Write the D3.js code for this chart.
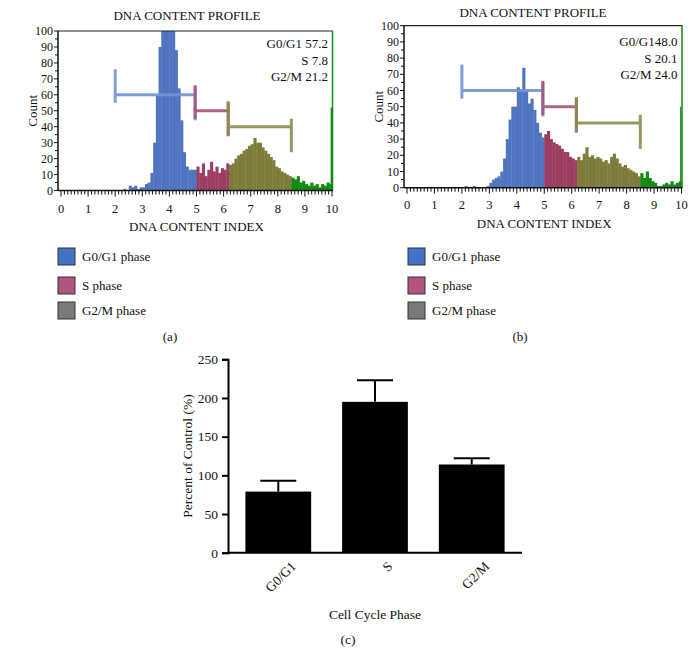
<html>
  <style type="text/css">
    body { margin: 0; background: #fff; }
    text { font-family: "Liberation Serif", "DejaVu Serif", serif; fill: #111; }
  </style>
  <body>
    <script src="https://cdnjs.cloudflare.com/ajax/libs/d3/7.8.5/d3.min.js"></script>
    <script type="text/javascript">
      // histogram channels, bin width 0.1 on the DNA content index (0..10)
      const countsA = [
        0, 0, 0, 0, 0, 0, 0, 0, 0, 0,
        0, 0, 0, 0, 0, 0, 0, 0, 0, 0,
        0, 0, 0, 1, 0, 3, 2, 3, 1, 2,
        2, 4, 5, 11, 30, 60, 90, 115, 128, 132,
        126, 106, 88, 64, 44, 24, 15, 13, 13, 13,
        15, 11, 17, 9, 13, 18, 12, 15, 11, 14,
        13, 17, 16, 17, 20, 22, 23, 25, 26, 28,
        29, 33, 30, 30, 27, 25, 23, 21, 19, 15,
        14, 12, 11, 10, 9, 8, 7, 9, 5, 6,
        4, 3, 5, 3, 4, 2, 4, 3, 5, 4
      ];
      const countsB = [
        0, 0, 0, 0, 0, 0, 0, 0, 0, 0,
        0, 0, 0, 0, 0, 0, 0, 0, 0, 0,
        0, 1, 0, 0, 1, 0, 0, 0, 0, 1,
        3, 5, 6, 7, 10, 18, 30, 42, 50, 50,
        62, 60, 74, 60, 52, 55, 48, 40, 34, 31,
        33, 35, 30, 28, 27, 26, 24, 22, 22, 19,
        18, 17, 19, 17, 21, 25, 19, 20, 18, 19,
        18, 16, 17, 15, 19, 21, 18, 15, 13, 14,
        12, 11, 10, 9, 7, 9, 6, 10, 6, 4,
        3, 1, 1, 2, 3, 2, 4, 2, 3, 4
      ];
      const lastChannelA = 52;
      const lastChannelB = 50;

      const gateStart = [2.0, 4.95, 6.17];
      const gateEnd = [4.95, 6.17, 8.5];
      const gateLevel = [60, 50, 40];

      const statsA = ["G0/G1 57.2", "S 7.8", "G2/M 21.2"];
      const statsB = ["G0/G148.0", "S 20.1", "G2/M 24.0"];
      const legendNames = ["G0/G1 phase", "S phase", "G2/M phase"];

      const cyclePhases = ["G0/G1", "S", "G2/M"];
      const percentOfControl = [79, 195, 114];
      const errorTop = [93, 223, 122];

      const histColors = ["#5075c0", "#9b3e62", "#7e7c3a", "#118a11"];
      const gateColors = ["#7393d2", "#aa5278", "#8d8c4e"];
      const legendColors = ["#4472c6", "#b0557f", "#7a7a7a"];

      const svg = d3.select("body").append("svg")
        .attr("width", 700).attr("height", 666);

      function drawHist(p) {
        const g = svg.append("g");
        const x = d3.scaleLinear().domain([0, 10]).range([p.x0, p.x1]);
        const y = d3.scaleLinear().domain([0, 100]).range([p.y0, p.y1]).clamp(true);
        const bw = 0.1;
        const phaseOf = v => v < gateEnd[0] ? 0 : v < gateEnd[1] ? 1 : v < gateEnd[2] ? 2 : 3;

        g.selectAll("rect.bin").data(p.counts).enter().append("rect")
          .attr("class", "bin")
          .attr("x", (d, i) => x(i * bw))
          .attr("width", x(bw) - x(0) + 0.4)
          .attr("y", d => y(d))
          .attr("height", d => y(0) - y(d))
          .attr("fill", (d, i) => histColors[phaseOf(i * bw)]);

        g.append("rect")
          .attr("x", x(9.95)).attr("width", x(10) - x(9.95))
          .attr("y", y(p.last)).attr("height", y(0) - y(p.last))
          .attr("fill", histColors[3]);

        // frame: top black, right green
        g.append("line").attr("x1", p.x0 - 3).attr("x2", x(10) + 1)
          .attr("y1", y(100)).attr("y2", y(100))
          .attr("stroke", "#222").attr("stroke-width", 1.2);
        g.append("line").attr("x1", x(10) + 0.5).attr("x2", x(10) + 0.5)
          .attr("y1", y(100)).attr("y2", y(0))
          .attr("stroke", histColors[3]).attr("stroke-width", 1.5);

        // gates
        gateStart.forEach((s, k) => {
          const L = gateLevel[k];
          const gg = g.append("g").attr("stroke", gateColors[k])
            .attr("stroke-width", 3).attr("opacity", 0.9);
          gg.append("line").attr("x1", x(s)).attr("x2", x(gateEnd[k]))
            .attr("y1", y(L)).attr("y2", y(L));
          gg.append("line").attr("x1", x(s)).attr("x2", x(s))
            .attr("y1", y(L - 5)).attr("y2", y(L + 16));
          gg.append("line").attr("x1", x(gateEnd[k])).attr("x2", x(gateEnd[k]))
            .attr("y1", y(L - 16)).attr("y2", y(L + 5));
        });

        // axes
        const yAxis = g.append("g").attr("transform", `translate(${p.x0 - 3},0)`);
        yAxis.append("line").attr("y1", y(0)).attr("y2", y(100))
          .attr("stroke", "#111").attr("stroke-width", 1.5);
        yAxis.selectAll("line.mt").data(d3.range(0, 101, 5)).enter().append("line")
          .attr("x1", d => d % 10 === 0 ? -4 : -3).attr("x2", 0)
          .attr("y1", d => y(d)).attr("y2", d => y(d))
          .attr("stroke", "#111").attr("stroke-width", 1);
        yAxis.selectAll("text").data(d3.range(0, 101, 10)).enter().append("text")
          .attr("x", -5).attr("y", d => y(d) + 4)
          .attr("text-anchor", "end").attr("font-size", 12)
          .text(d => d);

        const xAxis = g.append("g").attr("transform", `translate(0,${p.y0})`);
        xAxis.append("line").attr("x1", p.x0 - 3).attr("x2", x(10) + 1)
          .attr("stroke", "#111").attr("stroke-width", 1.5);
        xAxis.selectAll("line.mt").data(d3.range(0, 80.5, 1)).enter().append("line")
          .attr("x1", d => x(d / 8)).attr("x2", d => x(d / 8))
          .attr("y1", 0).attr("y2", d => d % 8 === 0 ? 6 : 4)
          .attr("stroke", "#111").attr("stroke-width", 1);
        xAxis.selectAll("text").data(d3.range(0, 11)).enter().append("text")
          .attr("x", d => x(d)).attr("y", p.tickY - p.y0)
          .attr("text-anchor", "middle").attr("font-size", 12.5)
          .text(d => d);

        g.append("text").attr("x", (p.x0 + p.x1) / 2).attr("y", p.y0 + 40)
          .attr("text-anchor", "middle").attr("font-size", 13)
          .text("DNA CONTENT INDEX");
        g.append("text").attr("x", p.titleX).attr("y", p.titleY)
          .attr("text-anchor", "middle").attr("font-size", 13)
          .text("DNA CONTENT PROFILE");
        g.append("text")
          .attr("transform", `translate(${p.x0 - 24},${(p.y0 + p.y1) / 2}) rotate(-90)`)
          .attr("text-anchor", "middle").attr("font-size", 13)
          .text("Count");

        g.selectAll("text.stat").data(p.stats).enter().append("text")
          .attr("class", "stat")
          .attr("x", x(10) - 4).attr("y", (d, i) => p.statY + i * 16.5)
          .attr("text-anchor", "end").attr("font-size", 13)
          .text(d => d);

        // legend
        const legY = [248, 277, 302];
        const lg = g.selectAll("g.leg").data(legendNames).enter().append("g")
          .attr("transform", (d, i) => `translate(${p.legX},${legY[i]})`);
        lg.append("rect").attr("width", 17).attr("height", 17)
          .attr("fill", (d, i) => legendColors[i])
          .attr("stroke", "#333").attr("stroke-width", 1);
        lg.append("text").attr("x", 24).attr("y", 13)
          .attr("font-size", 13).text(d => d);

        svg.append("text").attr("x", p.tagX).attr("y", 341)
          .attr("text-anchor", "middle").attr("font-size", 13)
          .text(p.tag);
      }

      drawHist({
        counts: countsA, last: lastChannelA, stats: statsA,
        x0: 61, x1: 332, y0: 190.5, y1: 31,
        tickY: 213, titleX: 187, titleY: 20, statY: 48,
        legX: 58, tagX: 170, tag: "(a)"
      });
      drawHist({
        counts: countsB, last: lastChannelB, stats: statsB,
        x0: 407, x1: 681.5, y0: 187.7, y1: 25.7,
        tickY: 209, titleX: 533, titleY: 17, statY: 46,
        legX: 408, tagX: 520, tag: "(b)"
      });

      // panel (c) bar chart
      const xc = d3.scaleBand().domain(cyclePhases).range([228, 522])
        .paddingInner(0.32).paddingOuter(0.18);
      const yc = d3.scaleLinear().domain([0, 250]).range([552.7, 359.3]);
      const gc = svg.append("g");

      gc.selectAll("rect.bar").data(cyclePhases).enter().append("rect")
        .attr("class", "bar")
        .attr("x", d => xc(d)).attr("width", xc.bandwidth())
        .attr("y", (d, i) => yc(percentOfControl[i]))
        .attr("height", (d, i) => yc(0) - yc(percentOfControl[i]))
        .attr("fill", "#000");

      const eb = gc.selectAll("g.err").data(cyclePhases).enter().append("g")
        .attr("stroke", "#000").attr("stroke-width", 2);
      eb.append("line")
        .attr("x1", d => xc(d) + xc.bandwidth() / 2).attr("x2", d => xc(d) + xc.bandwidth() / 2)
        .attr("y1", (d, i) => yc(percentOfControl[i])).attr("y2", (d, i) => yc(errorTop[i]));
      eb.append("line")
        .attr("x1", d => xc(d) + xc.bandwidth() / 2 - 18).attr("x2", d => xc(d) + xc.bandwidth() / 2 + 18)
        .attr("y1", (d, i) => yc(errorTop[i])).attr("y2", (d, i) => yc(errorTop[i]));

      const yAxisC = gc.append("g").attr("transform", "translate(228,0)")
        .call(d3.axisLeft(yc).tickValues(d3.range(0, 251, 50)).tickSize(6).tickPadding(4));
      yAxisC.select(".domain").attr("stroke-width", 2);
      yAxisC.selectAll(".tick line").attr("stroke-width", 2);
      yAxisC.selectAll(".tick text").attr("font-size", 13.5)
        .attr("font-family", "Liberation Serif").attr("fill", "#111");

      const xAxisC = gc.append("g").attr("transform", "translate(0,552.7)")
        .call(d3.axisBottom(xc).tickSize(0).tickPadding(8));
      xAxisC.select(".domain").attr("stroke-width", 2).attr("d", "M228,0H522");
      xAxisC.selectAll(".tick text").attr("font-size", 13.5)
        .attr("font-family", "Liberation Serif").attr("fill", "#111")
        .attr("text-anchor", "end")
        .attr("transform", "translate(8,4) rotate(-45)")
        .attr("dy", "0.5em");

      gc.append("text")
        .attr("transform", "translate(192,456) rotate(-90)")
        .attr("text-anchor", "middle").attr("font-size", 13.5)
        .text("Percent of Control (%)");
      gc.append("text").attr("x", 375).attr("y", 619)
        .attr("text-anchor", "middle").attr("font-size", 13.5)
        .text("Cell Cycle Phase");
      gc.append("text").attr("x", 348).attr("y", 644)
        .attr("text-anchor", "middle").attr("font-size", 13.5)
        .text("(c)");
    </script>
  </body>
</html>
